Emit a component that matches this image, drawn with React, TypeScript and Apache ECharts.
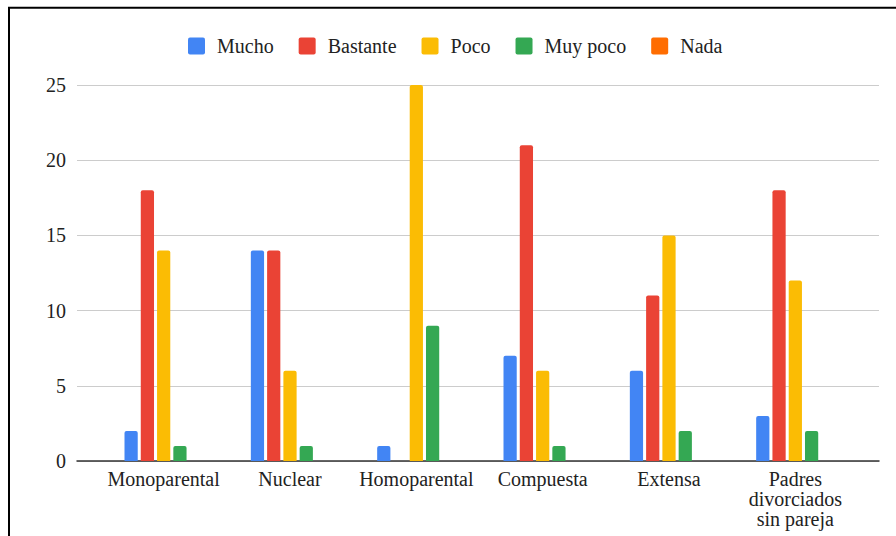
import React, { useEffect, useRef } from "react";
import * as echarts from "echarts";

const categories = [
  "Monoparental",
  "Nuclear",
  "Homoparental",
  "Compuesta",
  "Extensa",
  "Padres\ndivorciados\nsin pareja",
];
const seriesNames = ["Mucho", "Bastante", "Poco", "Muy poco", "Nada"];
const mucho = [2, 14, 1, 7, 6, 3];
const bastante = [18, 14, 0, 21, 11, 18];
const poco = [14, 6, 25, 6, 15, 12];
const muyPoco = [1, 1, 9, 1, 2, 2];
const nada = [0, 0, 0, 0, 0, 0];
const colors = ["#4285F4", "#EA4335", "#FBBC04", "#34A853", "#FF6D01"];
const yTicks = { min: 0, max: 25, interval: 5 };

const FONT = "Liberation Serif, serif";
const ICON =
  "path://M2,0 L15,0 Q17,0 17,2 L17,15 Q17,17 15,17 L2,17 Q0,17 0,15 L0,2 Q0,0 2,0 Z";

export default function App() {
  const ref = useRef<HTMLDivElement>(null);
  useEffect(() => {
    if (!ref.current) return;
    const chart = echarts.init(ref.current, null, { renderer: "svg" });
    const values = [mucho, bastante, poco, muyPoco, nada];
    chart.setOption({
      animation: false,
      backgroundColor: "#ffffff",
      textStyle: { fontFamily: FONT },
      legend: {
        top: 36,
        left: 188,
        padding: 0,
        itemWidth: 17,
        itemHeight: 17,
        itemGap: 25,
        icon: ICON,
        data: seriesNames,
        textStyle: {
          fontFamily: FONT,
          fontSize: 20,
          color: "#222",
          padding: [0, 0, 0, 7],
        },
      },
      grid: [
        { left: 77, right: 17, top: 85, bottom: 75 },
        { left: 100.5, right: 37.5, top: 85, bottom: 75 },
      ],
      xAxis: [
        {
          gridIndex: 0,
          type: "value",
          min: 0,
          max: 1,
          axisLabel: { show: false },
          axisTick: { show: false },
          splitLine: { show: false },
          axisLine: { show: true, lineStyle: { color: "#333", width: 1.5 } },
        },
        {
          gridIndex: 1,
          type: "category",
          data: categories,
          axisLine: { show: false },
          axisTick: { show: false },
          axisLabel: {
            fontFamily: FONT,
            fontSize: 20,
            color: "#222",
            margin: 8,
            lineHeight: 20,
            interval: 0,
          },
        },
      ],
      yAxis: [
        {
          gridIndex: 0,
          type: "value",
          min: yTicks.min,
          max: yTicks.max,
          interval: yTicks.interval,
          axisLine: { show: false },
          axisTick: { show: false },
          axisLabel: { fontFamily: FONT, fontSize: 20, color: "#222", margin: 11 },
          splitLine: { lineStyle: { color: "#cccccc", width: 1 } },
        },
        {
          gridIndex: 1,
          type: "value",
          min: yTicks.min,
          max: yTicks.max,
          interval: yTicks.interval,
          show: false,
          splitLine: { show: false },
        },
      ],
      series: seriesNames.map((name, i) => ({
        name,
        type: "bar",
        xAxisIndex: 1,
        yAxisIndex: 1,
        data: values[i],
        barGap: "23%",
        barCategoryGap: "38%",
        itemStyle: { color: colors[i], borderRadius: [2, 2, 0, 0] },
      })),
      color: colors,
      graphic: [
        {
          type: "line",
          shape: { x1: 9, y1: 7, x2: 9, y2: 536 },
          style: { stroke: "#000", lineWidth: 2 },
          z: 100,
        },
        {
          type: "line",
          shape: { x1: 8, y1: 7.7, x2: 896, y2: 7.7 },
          style: { stroke: "#000", lineWidth: 2 },
          z: 100,
        },
      ],
    });
    return () => chart.dispose();
  }, []);
  return (
    <div
      ref={ref}
      style={{ position: "fixed", left: 0, top: 0, width: 896, height: 536 }}
    />
  );
}
